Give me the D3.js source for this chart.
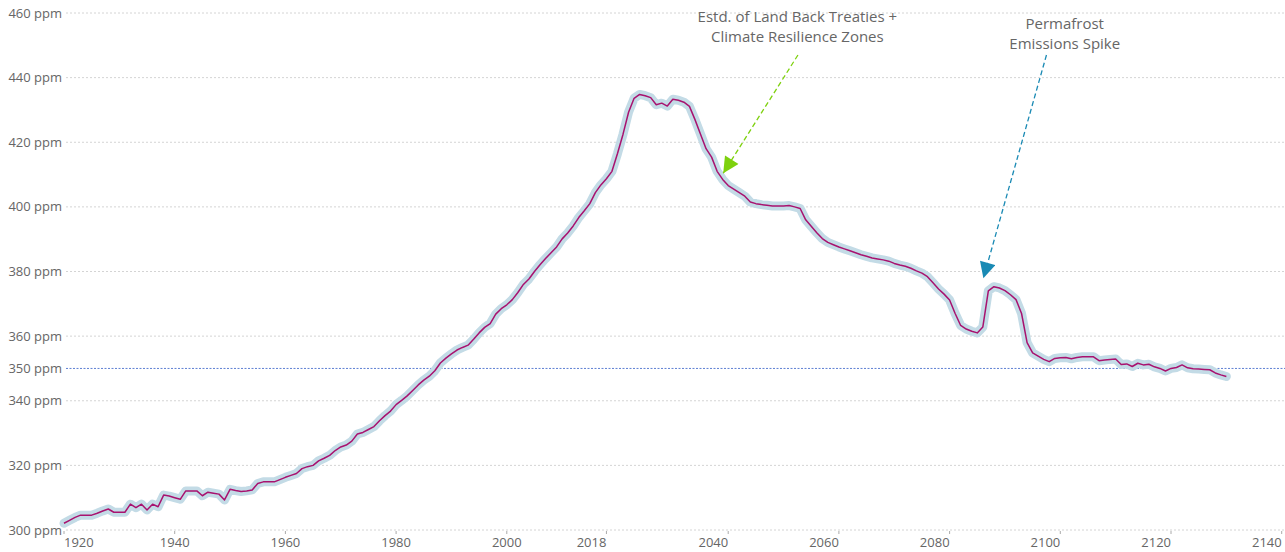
<!DOCTYPE html>
<html>
<head>
<meta charset="utf-8">
<script src="https://cdn.jsdelivr.net/npm/d3@7"></script>
<style>
  body { margin: 0; background: #fff; }
  svg { display: block; font-family: 'Open Sans', Lato, sans-serif; }
  .tick-label { fill: #666; font-size: 13px; }
  .note { fill: #666; font-size: 15px; }
</style>
</head>
<body>
<svg width="1285" height="552"></svg>
<script>
const firstYear = 1920;
// yearly CO2 concentration, ppm (1920 .. 2130)
const ppmValues = [
  302.1, 303.0, 303.9, 304.6, 304.6, 304.6, 305.2, 305.9, 306.5, 305.5,
  305.5, 305.5, 308.0, 306.9, 308.0, 306.2, 308.0, 307.2, 310.8, 310.5,
  310.0, 309.5, 312.1, 312.1, 312.1, 310.6, 311.7, 311.4, 311.1, 309.3,
  312.6, 312.2, 311.9, 312.1, 312.4, 314.4, 314.9, 314.9, 314.9, 315.6,
  316.3, 316.9, 317.5, 319.0, 319.6, 320.0, 321.4, 322.2, 323.1, 324.6,
  325.7, 326.3, 327.5, 329.7, 330.2, 331.1, 332.0, 333.8, 335.4, 336.8,
  338.8, 340.1, 341.5, 343.2, 344.9, 346.4, 347.6, 349.3, 351.7, 353.2,
  354.5, 355.7, 356.5, 357.2, 359.0, 361.0, 362.7, 363.9, 366.8, 368.5,
  369.7, 371.3, 373.5, 376.0, 377.7, 380.0, 382.1, 384.0, 385.8, 387.6,
  390.1, 391.9, 394.1, 396.7, 398.8, 401.0, 404.4, 406.8, 408.7, 411.0,
  416.5, 422.5, 429.3, 433.6, 434.8, 434.4, 433.8, 431.6, 432.1, 431.2,
  433.3, 433.0, 432.4, 431.1, 427.0, 422.5, 418.0, 415.4, 411.0, 408.5,
  406.6, 405.5, 404.4, 403.3, 401.5, 401.0, 400.7, 400.5, 400.3, 400.3,
  400.3, 400.4, 400.0, 399.5, 396.0, 394.0, 392.0, 390.2, 389.0, 388.3,
  387.6, 387.0, 386.4, 385.8, 385.2, 384.7, 384.2, 383.9, 383.6, 383.2,
  382.5, 382.0, 381.6, 381.0, 380.2, 379.5, 378.4, 376.5, 374.6, 373.0,
  371.2, 367.0, 363.3, 362.2, 361.5, 361.0, 362.8, 374.0, 375.3, 374.9,
  374.1, 372.8, 371.3, 367.0, 358.0, 354.8, 353.8, 352.8, 352.1, 353.1,
  353.3, 353.4, 353.0, 353.4, 353.6, 353.6, 353.6, 352.4, 352.6, 352.8,
  352.9, 351.2, 351.4, 350.6, 351.6, 351.1, 351.3, 350.5, 350.0, 349.2,
  350.0, 350.3, 351.1, 350.2, 349.9, 349.8, 349.7, 349.6, 348.6, 348.0,
  347.5
];
const yTicks = [300, 320, 340, 350, 360, 380, 400, 420, 440, 460];
const xTicks = [1920, 1940, 1960, 1980, 2000, 2018, 2040, 2060, 2080, 2100, 2120, 2140];
const targetPpm = 350;
const annotations = [
  { lines: ['Estd. of Land Back Treaties +', 'Climate Resilience Zones'],
    textYear: 2052.5, textPpm: 458.7, fromYear: 2052.6, fromPpm: 447, toYear: 2039.1, toPpm: 410.4,
    color: '#7ed10e' },
  { lines: ['Permafrost', 'Emissions Spike'],
    textYear: 2100.8, textPpm: 456.6, fromYear: 2097.5, fromPpm: 447, toYear: 2086.1, toPpm: 377.9,
    color: '#1a8ab4' }
];

const data = ppmValues.map((ppm, i) => ({ year: firstYear + i, ppm }));

const prepareSvg = () => {
  const svg = d3.select('svg');
  const svgWidth = +svg.attr('width');
  const svgHeight = +svg.attr('height');
  return { svg, svgWidth, svgHeight };
};

const renderChart = data => {
  const { svg, svgWidth } = prepareSvg();
  const plotLeft = 64;
  const plotBottom = 530;

  const xScale = d3.scaleLinear()
    .domain([1920, 2140])
    .range([plotLeft, plotLeft + 220 * 5.535]);
  const yScale = d3.scaleLinear()
    .domain([300, 460])
    .range([plotBottom, 13]);

  // horizontal grid + labels
  const yAxisGroup = svg.append('g').attr('class', 'y-axis');
  yAxisGroup.selectAll('line.grid')
    .data(yTicks.filter(t => t !== targetPpm))
    .enter()
    .append('line')
      .attr('class', 'grid')
      .attr('x1', plotLeft + 2)
      .attr('x2', svgWidth)
      .attr('y1', d => yScale(d))
      .attr('y2', d => yScale(d))
      .attr('stroke', '#d4d4d4')
      .attr('stroke-dasharray', '2,2');
  yAxisGroup.append('line')
    .attr('x1', plotLeft + 2)
    .attr('x2', svgWidth)
    .attr('y1', yScale(targetPpm))
    .attr('y2', yScale(targetPpm))
    .attr('stroke', '#5d7fd3')
    .attr('stroke-dasharray', '2,1.5');
  yAxisGroup.selectAll('text')
    .data(yTicks)
    .enter()
    .append('text')
      .attr('class', 'tick-label')
      .attr('x', plotLeft - 2)
      .attr('y', d => yScale(d))
      .attr('dy', '0.35em')
      .attr('text-anchor', 'end')
      .text(d => `${d} ppm`);

  // bottom axis
  const xAxisGroup = svg.append('g').attr('class', 'x-axis');
  xAxisGroup.selectAll('line')
    .data(xTicks)
    .enter()
    .append('line')
      .attr('x1', d => xScale(d))
      .attr('x2', d => xScale(d))
      .attr('y1', plotBottom + 1)
      .attr('y2', plotBottom + 4)
      .attr('stroke', '#aaa');
  xAxisGroup.selectAll('text')
    .data(xTicks)
    .enter()
    .append('text')
      .attr('class', 'tick-label')
      .attr('x', d => xScale(d))
      .attr('y', plotBottom + 17)
      .attr('text-anchor', (d, i) => i === 0 ? 'start' : d > 2000 ? 'end' : 'middle')
      .text(d => d);

  // the line with its halo
  const line = d3.line()
    .x(d => xScale(d.year))
    .y(d => yScale(d.ppm));
  svg.append('path')
    .datum(data)
    .attr('d', line)
    .attr('fill', 'none')
    .attr('stroke', '#c3dbe6')
    .attr('stroke-width', 9)
    .attr('stroke-linejoin', 'round')
    .attr('stroke-linecap', 'round');
  svg.append('path')
    .datum(data)
    .attr('d', line)
    .attr('fill', 'none')
    .attr('stroke', '#a8126f')
    .attr('stroke-width', 1.5)
    .attr('stroke-linejoin', 'round');

  // annotations
  const defs = svg.append('defs');
  annotations.forEach((note, i) => {
    defs.append('marker')
      .attr('id', `arrow-${i}`)
      .attr('viewBox', '0 -5 10 10')
      .attr('refX', 10)
      .attr('refY', 0)
      .attr('markerUnits', 'userSpaceOnUse')
      .attr('markerWidth', 17)
      .attr('markerHeight', 16)
      .attr('orient', 'auto')
      .append('path')
        .attr('d', 'M0,-5L10,0L0,5Z')
        .attr('fill', note.color);
    const noteGroup = svg.append('g').attr('class', 'note-group');
    noteGroup.append('line')
      .attr('x1', xScale(note.fromYear))
      .attr('y1', yScale(note.fromPpm))
      .attr('x2', xScale(note.toYear))
      .attr('y2', yScale(note.toPpm))
      .attr('stroke', note.color)
      .attr('stroke-width', 1.3)
      .attr('stroke-dasharray', '5,3')
      .attr('marker-end', `url(#arrow-${i})`);
    noteGroup.selectAll('text')
      .data(note.lines)
      .enter()
      .append('text')
        .attr('class', 'note')
        .attr('x', xScale(note.textYear))
        .attr('y', (d, j) => yScale(note.textPpm) + j * 20)
        .attr('dy', '0.35em')
        .attr('text-anchor', 'middle')
        .text(d => d);
  });
};

renderChart(data);
</script>
</body>
</html>
